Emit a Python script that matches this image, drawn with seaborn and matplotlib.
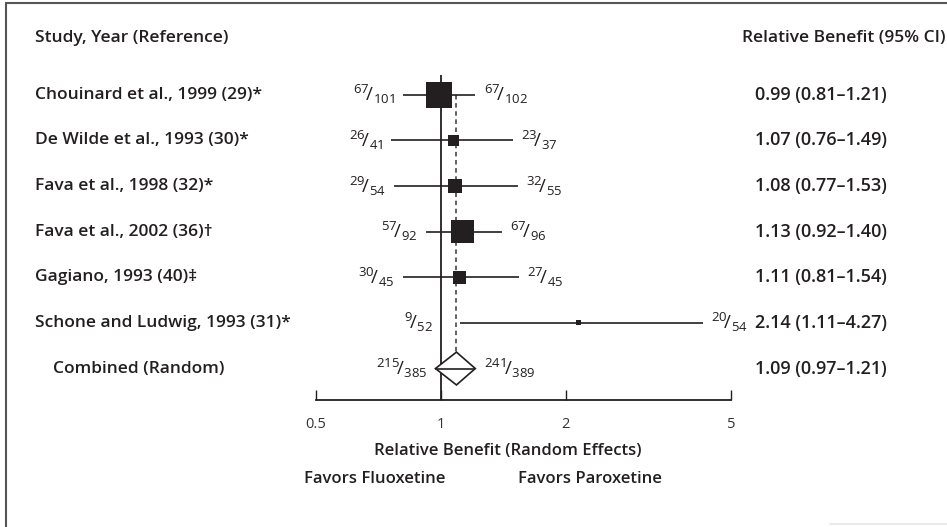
import matplotlib
matplotlib.use("Agg")
import matplotlib.pyplot as plt
import matplotlib.transforms as mtransforms
from matplotlib.lines import Line2D
from matplotlib.ticker import NullLocator
import seaborn as sns
import pandas as pd

# data
studies = [
    "Chouinard et al., 1999 (29)*",
    "De Wilde et al., 1993 (30)*",
    "Fava et al., 1998 (32)*",
    "Fava et al., 2002 (36)\u2020",
    "Gagiano, 1993 (40)\u2021",
    "Schone and Ludwig, 1993 (31)*",
]
fluox_events = [67, 26, 29, 57, 30, 9]
fluox_n = [101, 41, 54, 92, 45, 52]
parox_events = [67, 23, 32, 67, 27, 20]
parox_n = [102, 37, 55, 96, 45, 54]
rb = [0.99, 1.07, 1.08, 1.13, 1.11, 2.14]
rb_lo = [0.81, 0.76, 0.77, 0.92, 0.81, 1.11]
rb_hi = [1.21, 1.49, 1.53, 1.40, 1.54, 4.27]
weights = [39.7, 7.1, 11.5, 31.1, 9.2, 1.5]

combined_label = "Combined (Random)"
combined_fluox = (215, 385)
combined_parox = (241, 389)
combined_rb = 1.09
combined_lo = 0.97
combined_hi = 1.21

xticks = [0.5, 1, 2, 5]
xtick_labels = ["0.5", "1", "2", "5"]

sns.set_style("white")
plt.rcParams["font.family"] = ["Open Sans", "DejaVu Sans"]
plt.rcParams["mathtext.fontset"] = "custom"
plt.rcParams["mathtext.rm"] = "Open Sans"
plt.rcParams["mathtext.it"] = "Open Sans:italic"
plt.rcParams["mathtext.bf"] = "Open Sans:bold"

ink = "#231f20"
W, H = 947, 527

fig = plt.figure(figsize=(W / 100, H / 100), dpi=100)
ax = fig.add_axes([316 / W, 1 - 400 / H, 415 / W, 380 / H])

df = pd.DataFrame({"study": studies, "rb": rb, "lo": rb_lo, "hi": rb_hi,
                   "weight": weights, "row": range(len(studies))})
comb_row = len(studies)

# CI lines
ax.hlines(df["row"], df["lo"], df["hi"], color=ink, lw=1.2, zorder=2)

# weighted squares
sns.scatterplot(data=df, x="rb", y="row", size="weight",
                sizes=(1.5 * 8.83, 39.7 * 8.83), marker="s", color=ink,
                linewidth=0, legend=False, ax=ax, zorder=3)

# reference line at 1 and dashed line at the pooled estimate
ax.vlines(1, -0.44, 7, color=ink, lw=1.3, zorder=1)
dh = 0.36
ax.vlines(combined_rb, 0, comb_row - dh, color="#555555", lw=1.3,
          linestyles=(0, (2.5, 2)), zorder=1)

# pooled diamond
ax.fill([combined_lo, combined_rb, combined_hi, combined_rb],
        [comb_row, comb_row - dh, comb_row, comb_row + dh],
        facecolor="white", edgecolor=ink, lw=1.2, zorder=4)
ax.hlines(comb_row, combined_lo, combined_hi, color=ink, lw=1.2, zorder=5)

ax.set_xscale("log")
ax.set_xlim(0.5, 5)
ax.set_ylim(6.69, -1.64)
ax.set_xticks(xticks)
ax.set_xticklabels(xtick_labels)
ax.xaxis.set_minor_locator(NullLocator())
ax.set_yticks([])
ax.set_xlabel("")
ax.set_ylabel("")
for s in ["top", "right", "left"]:
    ax.spines[s].set_visible(False)
ax.spines["bottom"].set_color(ink)
ax.spines["bottom"].set_linewidth(1.3)
ax.tick_params(axis="x", direction="in", length=7, width=1.0, color=ink,
               labelsize=10.5, labelcolor="#333333", pad=12, bottom=True)
ax.patch.set_alpha(0)


def frac(a, b):
    return r"${}^{%d}\!/_{%d}$" % (a, b)


fs_frac = 13.5
rows_l = list(zip(fluox_events, fluox_n, rb_lo)) + [(*combined_fluox, combined_lo)]
rows_r = list(zip(parox_events, parox_n, rb_hi)) + [(*combined_parox, combined_hi)]
for i, (a, b, x) in enumerate(rows_l):
    ax.annotate(frac(a, b), (min(x, 1.0), i), xytext=(-6, 0),
                textcoords="offset points", ha="right", va="center",
                fontsize=fs_frac, color=ink, annotation_clip=False)
for i, (a, b, x) in enumerate(rows_r):
    ax.annotate(frac(a, b), (x, i), xytext=(6, 0),
                textcoords="offset points", ha="left", va="center",
                fontsize=fs_frac, color=ink, annotation_clip=False)

# text columns
trans = mtransforms.blended_transform_factory(fig.transFigure, ax.transData)
fs = 12.5
fs_val = 13
ax.text(35 / W, -1.25, "Study, Year (Reference)", transform=trans,
        fontsize=fs, fontweight="semibold", color=ink, va="center", clip_on=False)
ax.text(742 / W, -1.25, "Relative Benefit (95% CI)", transform=trans,
        fontsize=fs, fontweight="semibold", color=ink, va="center", clip_on=False)
for i, name in enumerate(studies):
    ax.text(35 / W, i, name, transform=trans, fontsize=fs,
            fontweight="semibold", color=ink, va="center", clip_on=False)
    ax.text(755 / W, i, f"{rb[i]:.2f} ({rb_lo[i]:.2f}\u2013{rb_hi[i]:.2f})",
            transform=trans, fontsize=fs_val, fontweight="semibold", color=ink,
            va="center", clip_on=False)
ax.text(53 / W, comb_row, combined_label, transform=trans, fontsize=fs,
        fontweight="semibold", color=ink, va="center", clip_on=False)
ax.text(755 / W, comb_row,
        f"{combined_rb:.2f} ({combined_lo:.2f}\u2013{combined_hi:.2f})",
        transform=trans, fontsize=fs_val, fontweight="semibold", color=ink,
        va="center", clip_on=False)

fig.text(508 / W, 1 - 451 / H, "Relative Benefit (Random Effects)",
         ha="center", va="center", fontsize=12, fontweight="semibold", color=ink)
fig.text(304 / W, 1 - 479 / H, "Favors Fluoxetine", ha="left", va="center",
         fontsize=12, fontweight="semibold", color=ink)
fig.text(518 / W, 1 - 479 / H, "Favors Paroxetine", ha="left", va="center",
         fontsize=12, fontweight="semibold", color=ink)

# frame around the figure
fig.add_artist(Line2D([5.5 / W, 5.5 / W], [0, 1 - 3 / H], color="#555555", lw=1.5))
fig.add_artist(Line2D([5.5 / W, 1], [1 - 3 / H, 1 - 3 / H], color="#555555", lw=1.5))
fig.add_artist(Line2D([830 / W, 1], [3 / H, 3 / H], color="#e6e6e6", lw=1.2))

fig.savefig("out.png", dpi=100)
